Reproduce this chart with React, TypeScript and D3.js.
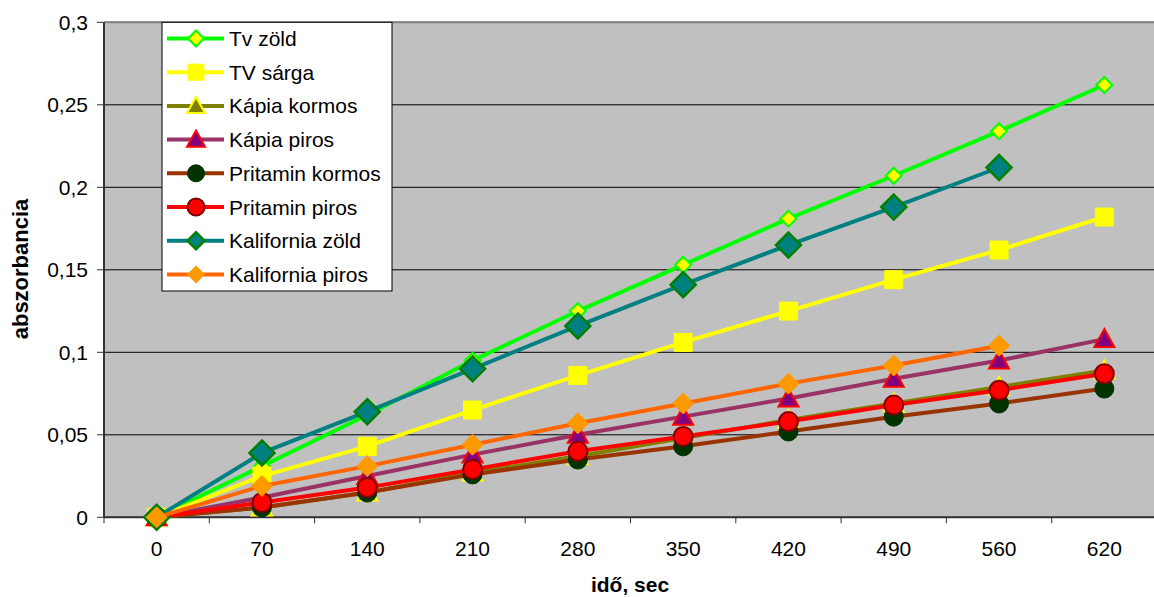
import React from "react";
import * as d3 from "d3";

// Time points (seconds) shown as categories on the x axis
const categories = ["0", "70", "140", "210", "280", "350", "420", "490", "560", "620"];

// Absorbance readings per sample; null where no reading exists
const tvZold = [0, 0.031, 0.062, 0.095, 0.125, 0.153, 0.181, 0.207, 0.234, 0.262];
const tvSarga = [0, 0.025, 0.043, 0.065, 0.086, 0.106, 0.125, 0.144, 0.162, 0.182];
const kapiaKormos = [0, 0.006, 0.015, 0.027, 0.037, 0.048, 0.059, 0.069, 0.079, 0.089];
const kapiaPiros = [0, 0.012, 0.025, 0.038, 0.05, 0.061, 0.072, 0.084, 0.095, 0.108];
const pritaminKormos = [0, 0.006, 0.015, 0.026, 0.035, 0.043, 0.052, 0.061, 0.069, 0.078];
const pritaminPiros = [0, 0.009, 0.018, 0.029, 0.04, 0.049, 0.058, 0.068, 0.077, 0.087];
const kaliforniaZold = [0, 0.039, 0.064, 0.09, 0.116, 0.141, 0.165, 0.188, 0.212, null];
const kaliforniaPiros = [0, 0.019, 0.031, 0.044, 0.057, 0.069, 0.081, 0.092, 0.104, null];

const yTicks = [0, 0.05, 0.1, 0.15, 0.2, 0.25, 0.3];
const yTickLabels = ["0", "0,05", "0,1", "0,15", "0,2", "0,25", "0,3"];

type Shape = "diamond" | "square" | "triangle" | "circle";

interface Series {
  name: string;
  values: (number | null)[];
  line: string;
  fill: string;
  stroke: string;
  shape: Shape;
  size: number;
  legendSize: number;
  strokeWidth: number;
}

const series: Series[] = [
  { name: "Tv zöld", values: tvZold, line: "#00FF00", fill: "#FFFF00", stroke: "#00FF00", shape: "diamond", size: 8, legendSize: 8, strokeWidth: 2 },
  { name: "TV sárga", values: tvSarga, line: "#FFFF00", fill: "#FFFF00", stroke: "#FFFF00", shape: "square", size: 9, legendSize: 8, strokeWidth: 1 },
  { name: "Kápia kormos", values: kapiaKormos, line: "#808000", fill: "#808000", stroke: "#FFFF00", shape: "triangle", size: 10, legendSize: 9, strokeWidth: 2 },
  { name: "Kápia piros", values: kapiaPiros, line: "#993366", fill: "#800080", stroke: "#FF0000", shape: "triangle", size: 10, legendSize: 9, strokeWidth: 2 },
  { name: "Pritamin kormos", values: pritaminKormos, line: "#993300", fill: "#003300", stroke: "#003300", shape: "circle", size: 9.5, legendSize: 8.5, strokeWidth: 1 },
  { name: "Pritamin piros", values: pritaminPiros, line: "#FF0000", fill: "#FF0000", stroke: "#800000", shape: "circle", size: 9.5, legendSize: 8.5, strokeWidth: 2 },
  { name: "Kalifornia zöld", values: kaliforniaZold, line: "#008080", fill: "#008080", stroke: "#008000", shape: "diamond", size: 12.5, legendSize: 8.5, strokeWidth: 2.5 },
  { name: "Kalifornia piros", values: kaliforniaPiros, line: "#FF6600", fill: "#FF9900", stroke: "#FF9900", shape: "diamond", size: 10.5, legendSize: 8.5, strokeWidth: 1 },
];

const W = 1154;
const H = 597;
const plot = { left: 104, right: 1157, top: 22.3, bottom: 517.3 };

const x = d3.scaleBand<string>().domain(categories).range([plot.left, plot.right]);
const y = d3.scaleLinear().domain([0, 0.3]).range([plot.bottom, plot.top]);

function markerPath(shape: Shape, r: number): string {
  switch (shape) {
    case "diamond":
      return `M0,${-r}L${r},0L0,${r}L${-r},0Z`;
    case "square":
      return `M${-r},${-r}H${r}V${r}H${-r}Z`;
    case "triangle":
      return `M0,${-r}L${r},${r * 0.8}L${-r},${r * 0.8}Z`;
    default:
      return d3.path().toString();
  }
}

function Marker({ s, cx, cy, r }: { s: Series; cx: number; cy: number; r: number }) {
  if (s.shape === "circle") {
    return <circle cx={cx} cy={cy} r={r} fill={s.fill} stroke={s.stroke} strokeWidth={s.strokeWidth} />;
  }
  return (
    <path
      d={markerPath(s.shape, r)}
      transform={`translate(${cx},${cy})`}
      fill={s.fill}
      stroke={s.stroke}
      strokeWidth={s.strokeWidth}
      strokeLinejoin="miter"
    />
  );
}

const FONT = "Arial, 'Liberation Sans', sans-serif";

export default function App() {
  const cx = (c: string) => (x(c) ?? 0) + x.bandwidth() / 2;
  const lineGen = d3
    .line<{ c: string; v: number | null }>()
    .defined((d) => d.v !== null)
    .x((d) => cx(d.c))
    .y((d) => y(d.v as number));

  const boundaries = categories.map((c) => x(c) ?? 0).concat([plot.right]);

  const legend = { left: 162, top: 22.3, right: 392, bottom: 291, rowStart: 38.5, rowStep: 33.7 };

  return (
    <svg width={W} height={H} style={{ position: "absolute", left: 0, top: 0 }} fontFamily={FONT}>
      <rect x={0} y={0} width={W} height={H} fill="#FFFFFF" />
      {/* plot area */}
      <rect x={plot.left} y={plot.top} width={plot.right - plot.left} height={plot.bottom - plot.top} fill="#C0C0C0" />
      {yTicks.map((t) => (
        <line key={t} x1={plot.left} x2={plot.right} y1={y(t)} y2={y(t)} stroke="#000000" strokeWidth={1} />
      ))}
      <line x1={plot.left} x2={plot.right} y1={plot.top} y2={plot.top} stroke="#808080" strokeWidth={2} />

      {/* axes */}
      <line x1={plot.left} x2={plot.left} y1={plot.top} y2={plot.bottom} stroke="#333333" strokeWidth={2} />
      <line x1={plot.left} x2={plot.right} y1={plot.bottom} y2={plot.bottom} stroke="#333333" strokeWidth={2} />
      {yTicks.map((t, i) => (
        <g key={t}>
          <line x1={plot.left - 7} x2={plot.left} y1={y(t)} y2={y(t)} stroke="#333333" strokeWidth={1} />
          <text x={88} y={y(t)} dy="0.36em" textAnchor="end" fontSize={21} fill="#000">
            {yTickLabels[i]}
          </text>
        </g>
      ))}
      {boundaries.map((bx, i) => (
        <line key={i} x1={bx} x2={bx} y1={plot.bottom} y2={plot.bottom + 6} stroke="#333333" strokeWidth={1} />
      ))}
      {categories.map((c) => (
        <text key={c} x={cx(c)} y={548} dy="0.36em" textAnchor="middle" fontSize={21} fill="#000">
          {c}
        </text>
      ))}

      {/* series */}
      {series.map((s) => {
        const pts = categories.map((c, i) => ({ c, v: s.values[i] }));
        return (
          <g key={s.name}>
            <path d={lineGen(pts) ?? ""} fill="none" stroke={s.line} strokeWidth={4} strokeLinejoin="round" />
            {pts
              .filter((p) => p.v !== null)
              .map((p) => (
                <Marker key={p.c} s={s} cx={cx(p.c)} cy={y(p.v as number)} r={s.size} />
              ))}
          </g>
        );
      })}

      {/* legend */}
      <rect
        x={legend.left}
        y={legend.top}
        width={legend.right - legend.left}
        height={legend.bottom - legend.top}
        fill="#FFFFFF"
        stroke="#000000"
        strokeWidth={1}
      />
      {series.map((s, i) => {
        const ly = legend.rowStart + i * legend.rowStep;
        return (
          <g key={s.name}>
            <line x1={167} x2={224} y1={ly} y2={ly} stroke={s.line} strokeWidth={4} />
            <Marker s={s} cx={196} cy={ly} r={s.legendSize} />
            <text x={229} y={ly} dy="0.36em" fontSize={21} fill="#000">
              {s.name}
            </text>
          </g>
        );
      })}

      {/* axis titles */}
      <text x={630} y={592} textAnchor="middle" fontSize={21} fontWeight="bold" fill="#000">
        idő, sec
      </text>
      <text
        transform={`translate(28,269) rotate(-90)`}
        textAnchor="middle"
        fontSize={22}
        fontWeight="bold"
        fill="#000"
      >
        abszorbancia
      </text>
    </svg>
  );
}
